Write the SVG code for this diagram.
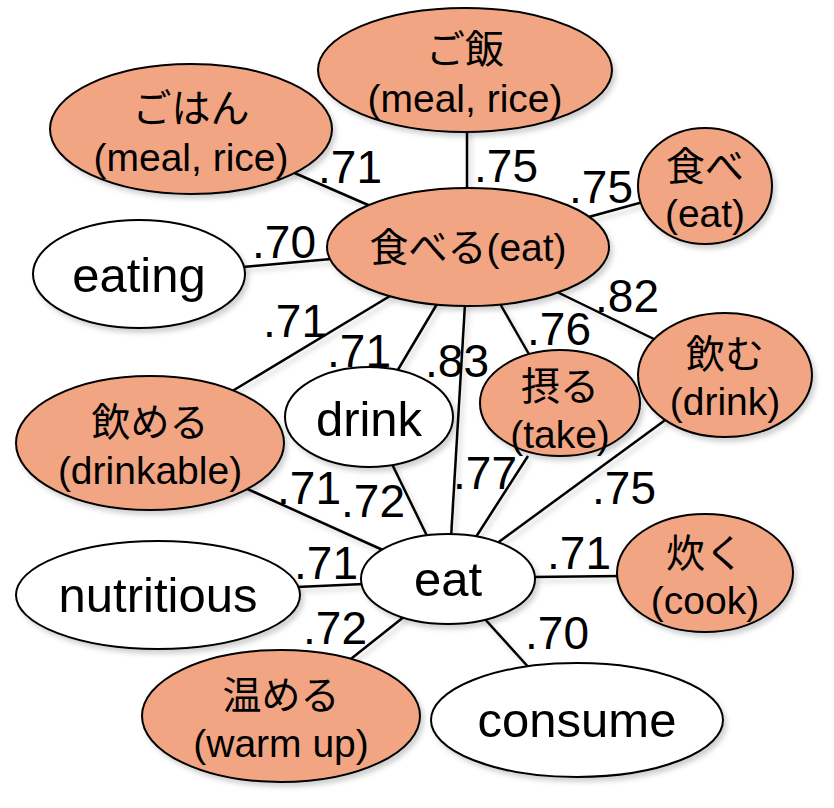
<svg xmlns="http://www.w3.org/2000/svg" width="834" height="808" viewBox="0 0 834 808">
<defs>
<filter id="sh" x="-20%" y="-20%" width="140%" height="140%">
<feDropShadow dx="3" dy="4" stdDeviation="2.5" flood-color="#000" flood-opacity="0.18"/>
</filter>
<style>
text{font-family:"Liberation Sans","Noto Sans CJK JP",sans-serif;fill:#000;text-anchor:middle}
.n ellipse{stroke:#000;stroke-width:2;filter:url(#sh)}
.o ellipse{fill:#F2A583}
.w ellipse{fill:#fff}
.jp{font-size:39px}
.big{font-size:49px}
.lab{font-size:46px}
#edges line{stroke:#000;stroke-width:2.5}
#edges{filter:url(#sh)}
</style>
</defs>
<rect width="834" height="808" fill="#fff"/>
<g id="edges">
<line x1="290" y1="171" x2="375" y2="208"/>
<line x1="467" y1="128" x2="467" y2="192"/>
<line x1="585" y1="218" x2="643" y2="202"/>
<line x1="243" y1="267" x2="331" y2="259"/>
<line x1="229" y1="393" x2="390" y2="296"/>
<line x1="396" y1="373" x2="437" y2="304"/>
<line x1="451" y1="538" x2="465" y2="304"/>
<line x1="530" y1="356" x2="499" y2="302"/>
<line x1="658" y1="341" x2="555" y2="291"/>
<line x1="243" y1="487" x2="385" y2="551"/>
<line x1="391" y1="462" x2="429" y2="540"/>
<line x1="528" y1="456" x2="474" y2="540"/>
<line x1="668" y1="418" x2="496" y2="544"/>
<line x1="297" y1="587" x2="364" y2="584"/>
<line x1="532" y1="577" x2="622" y2="576"/>
<line x1="347" y1="662" x2="405" y2="616"/>
<line x1="483" y1="617" x2="531" y2="670"/>
</g>
<g id="gohan" class="n o"><ellipse cx="191" cy="129" rx="141" ry="65"/><text x="191" y="122" class="jp">ごはん</text><text x="191" y="171" class="jp">(meal, rice)</text></g>
<g id="gohan2" class="n o"><ellipse cx="465" cy="70" rx="147" ry="62"/><text x="465" y="63" class="jp">ご飯</text><text x="465" y="112" class="jp">(meal, rice)</text></g>
<g id="tabe" class="n o"><ellipse cx="705" cy="186" rx="67" ry="58"/><text x="705" y="180" class="jp">食べ</text><text x="705" y="227" class="jp">(eat)</text></g>
<g id="taberu" class="n o"><ellipse cx="468" cy="247" rx="141" ry="59"/><text x="468" y="261" class="jp">食べる(eat)</text></g>
<g id="eating" class="n w"><ellipse cx="139" cy="274" rx="106" ry="54"/><text x="139" y="292" class="big">eating</text></g>
<g id="nomeru" class="n o"><ellipse cx="150" cy="443" rx="134" ry="67"/><text x="150" y="436" class="jp">飲める</text><text x="150" y="484" class="jp">(drinkable)</text></g>
<g id="drink" class="n w"><ellipse cx="369" cy="417" rx="84" ry="50"/><text x="369" y="436" class="big">drink</text></g>
<g id="toru" class="n o"><ellipse cx="560" cy="403" rx="80" ry="53"/><text x="560" y="400" class="jp">摂る</text><text x="560" y="448" class="jp">(take)</text></g>
<g id="nomu" class="n o"><ellipse cx="725" cy="375" rx="87" ry="62"/><text x="725" y="368" class="jp">飲む</text><text x="725" y="415" class="jp">(drink)</text></g>
<g id="eat" class="n w"><ellipse cx="448" cy="579" rx="87" ry="45"/><text x="448" y="596" class="big">eat</text></g>
<g id="nutritious" class="n w"><ellipse cx="158" cy="595" rx="142" ry="54"/><text x="158" y="612" class="big">nutritious</text></g>
<g id="taku" class="n o"><ellipse cx="705" cy="573" rx="88" ry="59"/><text x="705" y="567" class="jp">炊く</text><text x="705" y="614" class="jp">(cook)</text></g>
<g id="atatameru" class="n o"><ellipse cx="281" cy="716" rx="139" ry="66"/><text x="281" y="709" class="jp">温める</text><text x="281" y="757" class="jp">(warm up)</text></g>
<g id="consume" class="n w"><ellipse cx="577" cy="720" rx="146" ry="57"/><text x="577" y="737" class="big">consume</text></g>
<g id="labels" class="lab">
<text x="350" y="183">.71</text>
<text x="506" y="182">.75</text>
<text x="601" y="203">.75</text>
<text x="284" y="258">.70</text>
<text x="295" y="337">.71</text>
<text x="359" y="367">.71</text>
<text x="457" y="377">.83</text>
<text x="559" y="345">.76</text>
<text x="627" y="312">.82</text>
<text x="309" y="504">.71</text>
<text x="373" y="517">.72</text>
<text x="485" y="489">.77</text>
<text x="624" y="504">.75</text>
<text x="326" y="579">.71</text>
<text x="579" y="569">.71</text>
<text x="335" y="644">.72</text>
<text x="557" y="649">.70</text>
</g>
</svg>
